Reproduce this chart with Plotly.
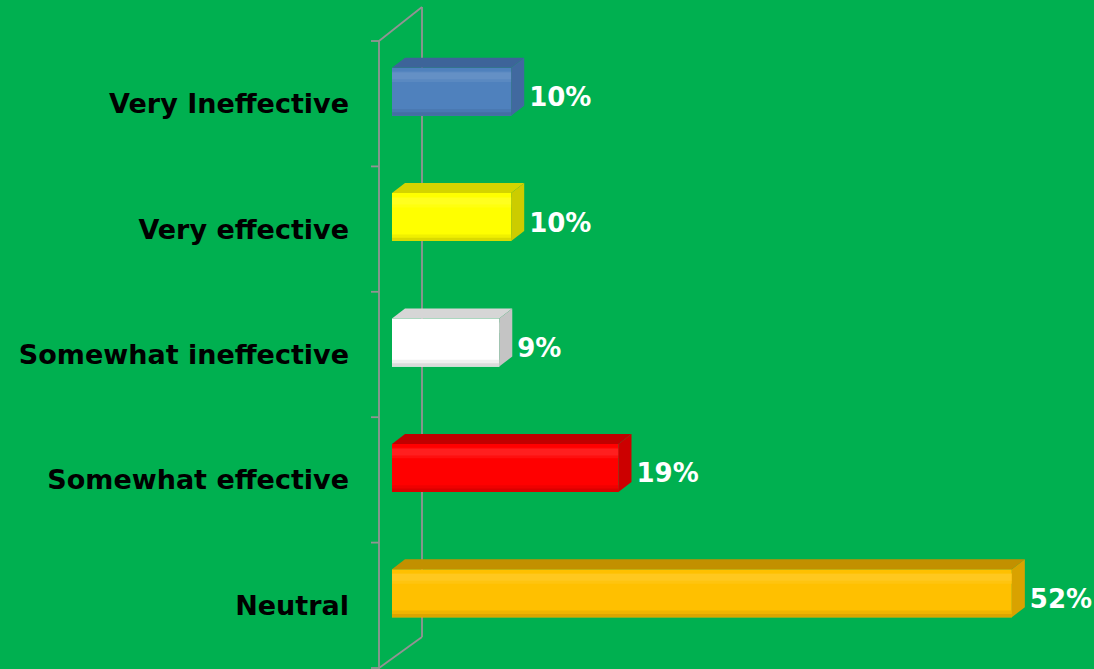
import plotly.graph_objects as go

# Categories listed bottom to top
categories = ["Neutral", "Somewhat effective", "Somewhat ineffective", "Very effective", "Very Ineffective"]
values = [52, 19, 9, 10, 10]
labels = ["52%", "19%", "9%", "10%", "10%"]

front_colors = ["#FFC000", "#FF0000", "#FFFFFF", "#FFFF00", "#4F81BD"]
top_colors = ["#C29000", "#C00000", "#D6D6D6", "#D4D400", "#3D6499"]
side_colors = ["#D9A200", "#CC0000", "#C4C4C4", "#CCCC00", "#41699F"]

BG = "#00B050"
WALL = "#939393"

# pixel scale of the plot area (used to express 3D depth in data units)
PX_X = 11.92            # pixels per percent
PX_Y = 1 / 0.007974     # pixels per category unit

DX = 13 / PX_X          # bar depth, horizontal
DY = 10 / PX_Y          # bar depth, vertical
BAR_W = 48 / PX_Y
BAR_OFF = -12 / PX_Y

pos = list(range(len(categories)))


def mix(c, other, t):
    a = [int(c[i:i + 2], 16) for i in (1, 3, 5)]
    b = [int(other[i:i + 2], 16) for i in (1, 3, 5)]
    return "#" + "".join(f"{round(x + (y - x) * t):02X}" for x, y in zip(a, b))


fig = go.Figure()

# front faces
fig.add_trace(go.Bar(
    x=values, y=pos, orientation="h", width=BAR_W, offset=BAR_OFF,
    marker=dict(color=front_colors, line=dict(width=0)), hoverinfo="skip",
))
# soft highlight near the upper edge and shade near the lower edge
for frac, w, t in [(0.70, 0.22, 0.06), (0.76, 0.14, 0.12)]:
    fig.add_trace(go.Bar(
        x=values, y=pos, orientation="h", width=BAR_W * w, offset=BAR_OFF + BAR_W * frac,
        marker=dict(color=[mix(c, "#FFFFFF", t) for c in front_colors], line=dict(width=0)),
        hoverinfo="skip",
    ))
for w, t in [(0.14, 0.06), (0.07, 0.14)]:
    fig.add_trace(go.Bar(
        x=values, y=pos, orientation="h", width=BAR_W * w, offset=BAR_OFF,
        marker=dict(color=[mix(c, "#000000", t) for c in front_colors], line=dict(width=0)),
        hoverinfo="skip",
    ))

# top and right-hand faces
for v, p, tc, sc in zip(values, pos, top_colors, side_colors):
    yb = p + BAR_OFF
    yt = yb + BAR_W
    fig.add_trace(go.Scatter(
        x=[0, v, v + DX, DX, 0], y=[yt, yt, yt + DY, yt + DY, yt],
        fill="toself", fillcolor=tc, mode="lines", line=dict(width=0, color=tc),
        hoverinfo="skip", showlegend=False,
    ))
    fig.add_trace(go.Scatter(
        x=[v, v + DX, v + DX, v, v], y=[yb, yb + DY, yt + DY, yt, yb],
        fill="toself", fillcolor=sc, mode="lines", line=dict(width=0, color=sc),
        hoverinfo="skip", showlegend=False,
    ))

# value labels
fig.add_trace(go.Scatter(
    x=[v + DX + 5 / PX_X for v in values], y=[p + 4 / PX_Y for p in pos],
    mode="text", text=labels, textposition="middle right",
    textfont=dict(family="DejaVu Sans", size=26, color="white", weight="bold"),
    hoverinfo="skip", showlegend=False,
))

# 3D wall outline
x_front = -13 / PX_X
x_back = 30 / PX_X
y_lo, y_hi = -0.5, len(categories) - 0.5
back_lo = y_lo + 31 / PX_Y
back_hi = y_hi + 34 / PX_Y
wall_lines = [
    (x_front, y_lo - 2 / PX_Y, x_front, y_hi),
    (x_back, back_lo, x_back, back_hi),
    (x_front, y_hi, x_back, back_hi),
    (x_front, y_lo, x_back, back_lo),
]
for k in range(len(categories) + 1):
    yk = y_lo + k
    wall_lines.append((x_front - 8 / PX_X, yk, x_front, yk))

shapes = [
    dict(type="line", xref="x", yref="y", x0=a, y0=b, x1=c, y1=d,
         line=dict(color=WALL, width=1.8), layer="below")
    for a, b, c, d in wall_lines
]

fig.update_layout(
    width=1094, height=669,
    margin=dict(l=360, r=0, t=0, b=0),
    paper_bgcolor=BG, plot_bgcolor=BG,
    showlegend=False, barmode="overlay",
    shapes=shapes,
    xaxis=dict(range=[-32 / PX_X, (1094 - 392) / PX_X], visible=False, fixedrange=True),
    yaxis=dict(
        range=[y_lo - 1 / PX_Y, y_hi + 41 / PX_Y],
        tickvals=pos, ticktext=categories,
        tickfont=dict(family="DejaVu Sans", size=27, color="black", weight="bold"),
        showgrid=False, zeroline=False, showline=False, ticks="",
        ticklabelstandoff=10, fixedrange=True,
    ),
)

fig.write_html("out.html")
